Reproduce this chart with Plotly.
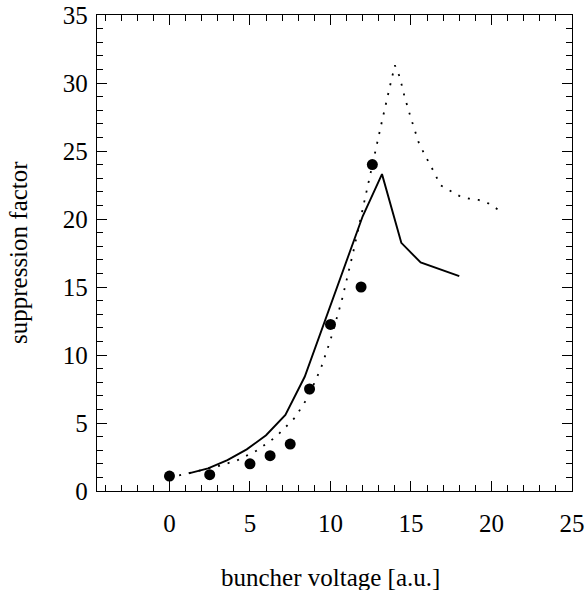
import plotly.graph_objects as go

# measured points (filled circles)
meas_x = [0.0, 2.5, 5.0, 6.25, 7.5, 8.7, 10.0, 11.9, 12.6]
meas_y = [1.1, 1.2, 2.0, 2.6, 3.45, 7.5, 12.25, 15.0, 24.0]

# solid simulation curve
solid_x = [1.2, 2.4, 3.6, 4.8, 6.0, 7.2, 8.4, 9.6, 10.8, 12.0, 13.2, 14.4, 15.6, 18.0]
solid_y = [1.3, 1.66, 2.27, 3.06, 4.1, 5.6, 8.4, 12.3, 16.2, 20.2, 23.3, 18.25, 16.8, 15.8]

# dotted simulation curve
dotted_x = [0.6, 1.8, 3.0, 4.2, 5.4, 6.6, 7.8, 8.6, 9.4, 10.0, 10.7, 11.4, 12.0, 12.6,
            13.2, 13.7, 14.0, 14.3, 14.6, 15.0, 15.5, 16.0, 16.5, 16.8, 17.4, 18.0,
            18.6, 19.2, 19.8, 20.4]
dotted_y = [1.15, 1.48, 1.82, 2.25, 2.96, 3.97, 5.4, 6.9, 9.0, 11.1, 14.0, 17.5, 20.8, 24.1,
            27.2, 29.8, 31.3, 30.45, 29.0, 27.4, 25.55, 24.4, 23.3, 22.5, 22.1, 21.7,
            21.5, 21.4, 21.15, 20.7]

x_ticks = [0, 5, 10, 15, 20, 25]
y_ticks = [0, 5, 10, 15, 20, 25, 30, 35]

x_title = "buncher voltage [a.u.]"
y_title = "suppression factor"

FONT = "Liberation Serif, Times New Roman, serif"
FS = 25

fig = go.Figure()
fig.add_trace(go.Scatter(x=dotted_x, y=dotted_y, mode="lines",
                         line=dict(color="black", width=1.8, dash="2px,8px"),
                         showlegend=False))
fig.add_trace(go.Scatter(x=solid_x, y=solid_y, mode="lines",
                         line=dict(color="black", width=1.9),
                         showlegend=False))
fig.add_trace(go.Scatter(x=meas_x, y=meas_y, mode="markers",
                         marker=dict(color="black", size=11, symbol="circle"),
                         showlegend=False))

axis_common = dict(
    showline=True, linecolor="black", linewidth=1.3, mirror="allticks",
    ticks="inside", ticklen=10, tickwidth=1.2, tickcolor="black",
    showgrid=False, zeroline=False,
    tickfont=dict(family=FONT, size=FS, color="black"),
)

fig.update_xaxes(
    range=[-4.5, 25], tickvals=x_ticks, ticktext=[str(v) for v in x_ticks],
    ticklabelstandoff=10,
    minor=dict(ticks="inside", ticklen=6, dtick=1, tick0=0, tickcolor="black", tickwidth=1.2, showgrid=False),
    **axis_common,
)
fig.update_yaxes(
    range=[0, 35], tickvals=y_ticks, ticktext=[str(v) for v in y_ticks],
    ticklabelstandoff=3,
    minor=dict(ticks="inside", ticklen=6, dtick=1, tick0=0, tickcolor="black", tickwidth=1.2, showgrid=False),
    **axis_common,
)

fig.add_annotation(text=x_title, xref="paper", yref="paper", x=0.5, y=0,
                   xanchor="center", yanchor="middle", xshift=-4, yshift=-86,
                   showarrow=False, font=dict(family=FONT, size=FS, color="black"))
fig.add_annotation(text=y_title, xref="paper", yref="paper", x=0, y=0.5,
                   xanchor="center", yanchor="middle", xshift=-79, textangle=-90,
                   showarrow=False, font=dict(family=FONT, size=FS, color="black"))

fig.update_layout(
    width=586, height=590,
    margin=dict(l=97, r=14, t=15, b=99, autoexpand=False),
    plot_bgcolor="white", paper_bgcolor="white",
    font=dict(family=FONT, size=FS, color="black"),
)

fig.write_html("out.html", config={"displayModeBar": False},
               post_script="document.body.style.margin='0';")
